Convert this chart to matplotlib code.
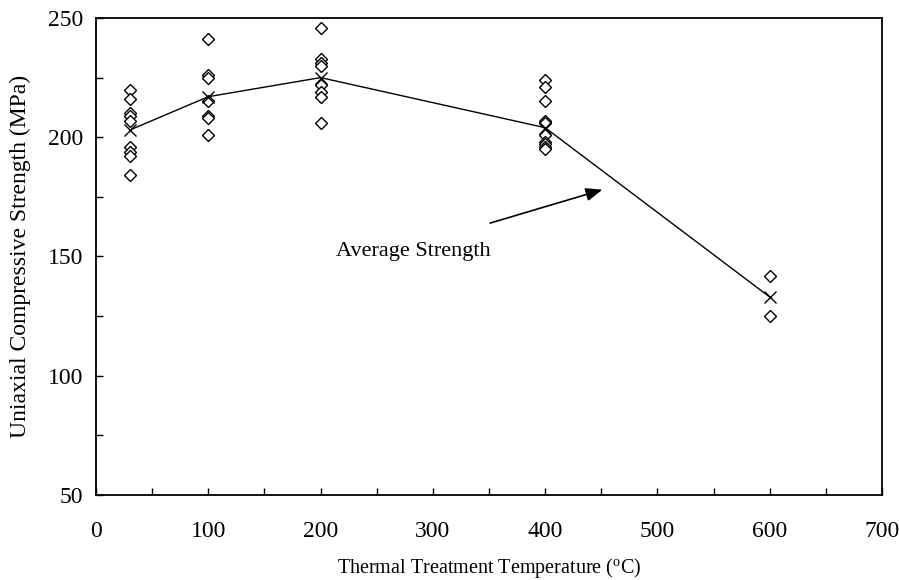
import numpy as np
import matplotlib.pyplot as plt
from matplotlib.ticker import MultipleLocator

plt.rcParams['font.family'] = ['Liberation Serif', 'DejaVu Serif']
plt.rcParams['mathtext.fontset'] = 'custom'
plt.rcParams['mathtext.rm'] = 'Liberation Serif'

# individual specimen strengths (MPa) at each treatment temperature
temps = [30, 100, 200, 400, 600]
strengths = [
    [220, 216, 210, 209, 207, 196, 194, 192, 184],
    [241, 226, 225, 215, 209, 208, 201],
    [246, 233, 231, 230, 222, 219, 217, 206],
    [224, 221, 215, 207, 206, 201, 198, 197, 196, 195],
    [142, 125],
]
# average strength per temperature
avg_strength = [203, 217, 225, 204, 133]

fig = plt.figure(figsize=(8.99, 5.8), dpi=100)
ax = fig.add_axes([0.1068, 0.1466, 0.8743, 0.8224])

for t, vals in zip(temps, strengths):
    ax.plot([t] * len(vals), vals, linestyle='none', marker='D', markersize=6,
            markerfacecolor='white', markeredgecolor='black', markeredgewidth=1.0)

ax.plot(temps, avg_strength, color='black', lw=1.0, marker='x',
        markersize=9, markeredgewidth=1.0)

ax.annotate('', xy=(451, 178), xytext=(351, 164),
            arrowprops=dict(arrowstyle='-|>,head_length=1.0,head_width=0.4',
                            color='black', lw=1.2, shrinkA=0, shrinkB=0))
ax.text(214, 152, 'Average Strength', fontsize=16, va='center', ha='left')

ax.set_xlim(0, 700)
ax.set_ylim(50, 250)
ax.xaxis.set_major_locator(MultipleLocator(100))
ax.xaxis.set_minor_locator(MultipleLocator(50))
ax.yaxis.set_major_locator(MultipleLocator(50))
ax.yaxis.set_minor_locator(MultipleLocator(25))
ax.tick_params(which='both', direction='in', length=5, width=1.0, labelsize=17)
ax.tick_params(axis='x', which='major', pad=19)
ax.tick_params(axis='y', which='major', pad=9)
for s in ax.spines.values():
    s.set_linewidth(1.3)

ax.set_xlabel('Thermal Treatment Temperature ($\\mathrm{^{o}}$C)', fontsize=14.5, labelpad=10)
ax.set_ylabel('Uniaxial Compressive Strength (MPa)', fontsize=17, labelpad=12)

fig.savefig('out.png', dpi=100)
